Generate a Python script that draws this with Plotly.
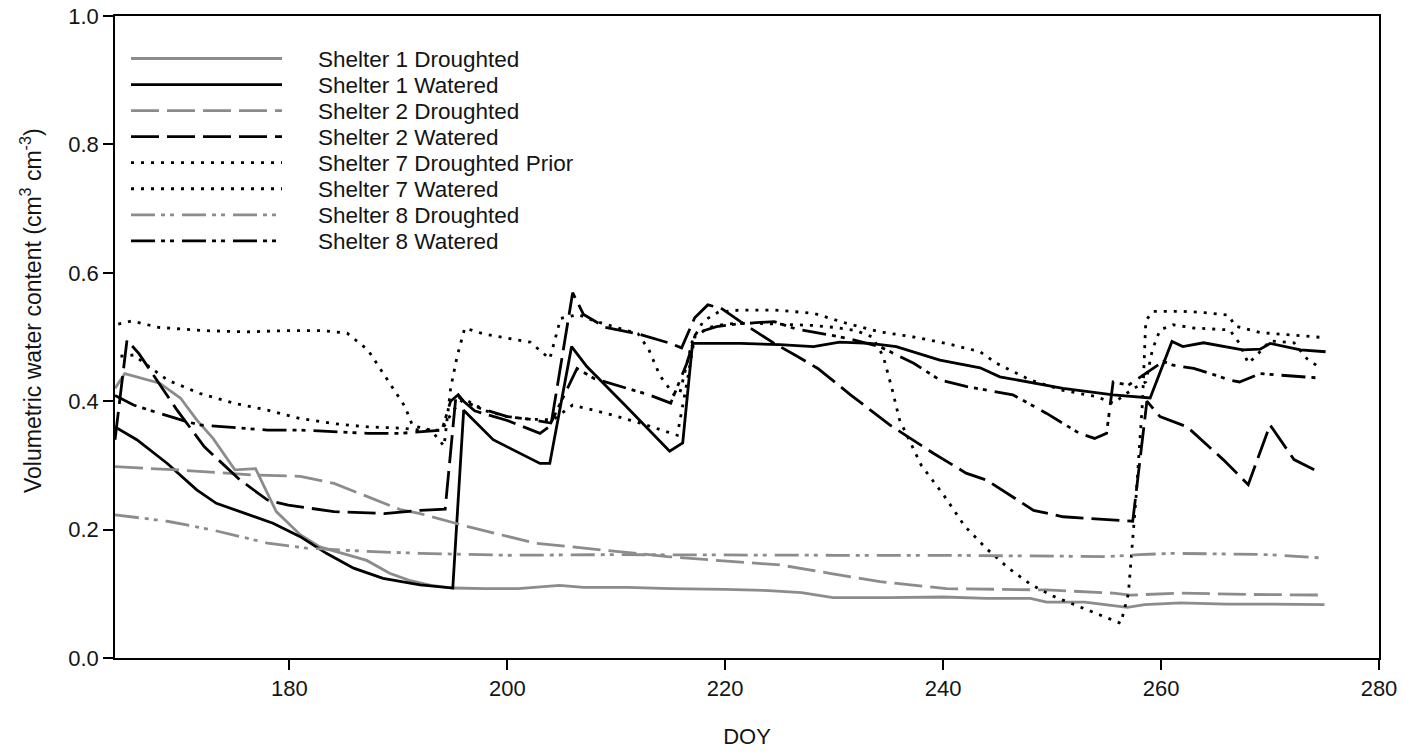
import plotly.graph_objects as go

# ---------------- data ----------------
s1d_x = [164.0, 164.9, 168.1, 170.0, 171.5, 173.0, 175.0, 176.9, 178.8, 181.0, 182.8, 184.9, 187.1, 189.2, 191.0, 193.0,
         195.0, 198.0, 201.0, 204.8, 207.0, 211.0, 215.0, 220.0, 224.0, 227.0, 229.9, 235.0, 240.0, 244.0, 248.0, 249.5,
         253.0, 256.9, 258.5, 261.8, 266.0, 270.0, 275.0]
s1d_y = [0.420, 0.443, 0.428, 0.405, 0.371, 0.342, 0.293, 0.295, 0.228, 0.192, 0.173, 0.163, 0.152, 0.132, 0.121, 0.113,
         0.109, 0.108, 0.108, 0.113, 0.110, 0.110, 0.108, 0.107, 0.105, 0.102, 0.094, 0.094, 0.095, 0.093, 0.093, 0.087,
         0.087, 0.079, 0.083, 0.086, 0.084, 0.084, 0.083]

s1w_x = [164.0, 166.0, 168.8, 171.5, 173.3, 175.5, 178.5, 181.0, 183.4, 185.9, 188.6, 192.0, 195.0, 196.0, 198.7, 203.0,
         203.9, 205.9, 207.3, 210.9, 214.9, 216.1, 217.0, 221.4, 225.0, 228.1, 230.5, 233.3, 235.7, 239.7, 243.4, 245.2,
         251.0, 255.6, 259.0, 261.0, 262.0, 263.9, 267.5, 269.1, 270.0, 272.8, 275.1]
s1w_y = [0.360, 0.340, 0.303, 0.262, 0.241, 0.228, 0.210, 0.189, 0.163, 0.140, 0.124, 0.114, 0.109, 0.386, 0.340, 0.303,
         0.303, 0.485, 0.454, 0.392, 0.322, 0.335, 0.490, 0.490, 0.488, 0.485, 0.492, 0.490, 0.485, 0.464, 0.452, 0.438,
         0.420, 0.410, 0.405, 0.493, 0.485, 0.491, 0.480, 0.481, 0.490, 0.480, 0.477]

s2d_x = [164.0, 169.7, 176.8, 181.0, 184.1, 187.2, 190.2, 192.0, 196.3, 202.5, 208.6, 214.7, 220.8, 225.0, 229.6, 234.2,
         240.3, 249.5, 255.6, 257.2, 261.8, 268.0, 275.0]
s2d_y = [0.298, 0.293, 0.285, 0.283, 0.272, 0.251, 0.231, 0.225, 0.205, 0.179, 0.168, 0.158, 0.150, 0.145, 0.132, 0.119,
         0.108, 0.106, 0.101, 0.098, 0.101, 0.099, 0.098]

s2w_x = [164.0, 165.1, 166.2, 167.6, 169.7, 172.2, 175.5, 178.0, 179.9, 184.1, 188.7, 192.0, 194.3, 195.3, 197.0, 200.0,
         203.0, 204.0, 206.0, 207.0, 209.0, 212.0, 215.0, 216.0, 217.2, 218.4, 219.6, 221.4, 222.6, 224.5, 226.4, 228.5,
         231.5, 235.1, 239.1, 242.1, 244.0, 246.4, 248.3, 251.0, 256.9, 257.4, 258.7, 259.9, 262.4, 265.7, 268.0, 270.0,
         272.2, 274.3]
s2w_y = [0.340, 0.495, 0.474, 0.438, 0.386, 0.329, 0.277, 0.246, 0.238, 0.228, 0.225, 0.230, 0.232, 0.410, 0.385, 0.370,
         0.350, 0.362, 0.569, 0.535, 0.515, 0.505, 0.490, 0.483, 0.530, 0.550, 0.545, 0.524, 0.511, 0.490, 0.472, 0.451,
         0.410, 0.363, 0.319, 0.288, 0.277, 0.251, 0.230, 0.220, 0.213, 0.213, 0.400, 0.376, 0.360, 0.309, 0.270, 0.363,
         0.309, 0.291]

s7dp_x = [164.5, 165.7, 168.8, 171.8, 174.9, 178.0, 181.0, 184.1, 187.2, 190.2, 192.0, 194.0, 195.0, 196.0, 198.0, 200.0,
          202.0, 204.2, 206.0, 209.1, 212.2, 215.6, 216.5, 217.2, 218.5, 220.0, 222.0, 225.0, 228.0, 230.0, 232.0, 233.5,
          234.5, 235.3, 236.0, 238.0, 240.0, 242.0, 244.0, 246.0, 248.0, 250.0, 252.0, 254.0, 256.3, 257.0, 257.7, 258.3,
          258.6, 259.3, 262.0, 264.0, 266.2, 266.8, 269.1, 272.0, 275.0]
s7dp_y = [0.470, 0.472, 0.433, 0.412, 0.397, 0.386, 0.373, 0.365, 0.360, 0.358, 0.355, 0.355, 0.385, 0.404, 0.385, 0.376,
          0.372, 0.371, 0.394, 0.381, 0.366, 0.347, 0.430, 0.500, 0.515, 0.520, 0.522, 0.520, 0.518, 0.515, 0.510, 0.500,
          0.470, 0.420, 0.371, 0.300, 0.255, 0.205, 0.170, 0.140, 0.115, 0.097, 0.083, 0.070, 0.054, 0.100, 0.250, 0.400,
          0.526, 0.540, 0.540, 0.538, 0.534, 0.517, 0.507, 0.503, 0.499]

s7w_x = [164.3, 165.5, 168.0, 172.0, 176.0, 180.0, 183.0, 185.3, 187.2, 189.0, 190.6, 191.3, 193.0, 194.2, 194.8, 195.4,
         196.1, 197.8, 202.1, 203.0, 203.9, 204.9, 206.5, 208.0, 210.0, 212.0, 213.0, 214.0, 215.3, 215.8, 216.5, 217.0,
         218.0, 219.4, 221.4, 224.5, 228.1, 231.2, 234.2, 237.3, 240.3, 243.4, 244.9, 248.0, 251.0, 254.1, 255.6, 257.5,
         258.6, 259.2, 259.9, 261.1, 263.0, 266.3, 267.2, 268.0, 268.7, 270.0, 272.2, 273.4, 274.5]
s7w_y = [0.520, 0.525, 0.515, 0.510, 0.508, 0.510, 0.510, 0.506, 0.480, 0.433, 0.392, 0.362, 0.355, 0.330, 0.420, 0.470,
         0.514, 0.505, 0.492, 0.479, 0.466, 0.529, 0.535, 0.525, 0.515, 0.505, 0.480, 0.440, 0.410, 0.410, 0.460, 0.495,
         0.525, 0.539, 0.542, 0.542, 0.537, 0.521, 0.508, 0.500, 0.490, 0.477, 0.459, 0.433, 0.417, 0.407, 0.397, 0.420,
         0.430, 0.480, 0.511, 0.519, 0.514, 0.511, 0.490, 0.459, 0.470, 0.494, 0.491, 0.466, 0.453]

s8d_x = [164.0, 168.8, 172.8, 178.0, 181.6, 187.2, 192.0, 200.0, 210.0, 220.0, 230.0, 240.0, 250.0, 255.0, 258.0, 261.0,
         266.0, 270.0, 274.6]
s8d_y = [0.223, 0.213, 0.200, 0.179, 0.171, 0.166, 0.163, 0.160, 0.161, 0.160, 0.160, 0.160, 0.158, 0.158, 0.161, 0.163,
         0.162, 0.161, 0.156]

s8w_x = [164.0, 165.7, 168.1, 170.6, 171.8, 174.3, 178.0, 181.0, 184.1, 187.2, 190.2, 192.0, 194.0, 194.8, 195.5, 196.0,
         197.5, 200.0, 202.0, 204.0, 206.4, 208.0, 211.0, 213.0, 215.0, 216.5, 217.3, 219.2, 221.4, 224.5, 226.4, 228.5,
         231.2, 234.2, 237.3, 239.7, 242.1, 246.4, 249.5, 252.5, 253.9, 255.0, 255.6, 257.0, 258.3, 260.2, 261.1, 263.0,
         264.9, 266.3, 267.2, 269.1, 270.6, 272.8, 274.6]
s8w_y = [0.409, 0.394, 0.381, 0.368, 0.363, 0.360, 0.355, 0.355, 0.352, 0.350, 0.350, 0.352, 0.355, 0.400, 0.410, 0.400,
         0.389, 0.376, 0.372, 0.366, 0.451, 0.435, 0.420, 0.410, 0.397, 0.460, 0.506, 0.516, 0.521, 0.524, 0.513, 0.506,
         0.498, 0.485, 0.459, 0.433, 0.423, 0.410, 0.381, 0.350, 0.342, 0.350, 0.430, 0.425, 0.440, 0.462, 0.456, 0.451,
         0.441, 0.433, 0.430, 0.443, 0.441, 0.438, 0.436]

series_names = ["Shelter 1 Droughted", "Shelter 1 Watered", "Shelter 2 Droughted", "Shelter 2 Watered",
                "Shelter 7 Droughted Prior", "Shelter 7 Watered", "Shelter 8 Droughted", "Shelter 8 Watered"]
x_ticks = [180, 200, 220, 240, 260, 280]
y_ticks = [0.0, 0.2, 0.4, 0.6, 0.8, 1.0]

# ---------------- styles ----------------
GRAY = "rgb(140,140,140)"
BLACK = "rgb(0,0,0)"
DASH = "28px,8px"
DOT = "3px,7px"
DASHDOTDOT = "24px,6px,4px,5px,4px,8px"
LW = 2.8

data = [(s1d_x, s1d_y), (s1w_x, s1w_y), (s2d_x, s2d_y), (s2w_x, s2w_y),
        (s7dp_x, s7dp_y), (s7w_x, s7w_y), (s8d_x, s8d_y), (s8w_x, s8w_y)]
styles = [(GRAY, "solid"), (BLACK, "solid"), (GRAY, DASH), (BLACK, DASH),
          (BLACK, DOT), (BLACK, DOT), (GRAY, DASHDOTDOT), (BLACK, DASHDOTDOT)]

FONT = "Arial, 'Liberation Sans', sans-serif"
TXT = "rgb(20,20,20)"

# plot-area geometry (pixels) used to place the in-plot legend
W, H = 1403, 754
ML, MR, MT, MB = 115, 24, 16, 96
PW, PH = W - ML - MR, H - MT - MB


def px2paper_x(px):
    return (px - ML) / PW


def px2paper_y(py):
    return (H - MB - py) / PH


fig = go.Figure()
shapes, annotations = [], []
for i, (name, (xs, ys), (color, dash)) in enumerate(zip(series_names, data, styles)):
    fig.add_trace(go.Scatter(x=xs, y=ys, mode="lines", name=name, showlegend=False,
                             line=dict(color=color, width=LW, dash=dash)))
    # legend key drawn inside the plot, top-left, like the original
    row_y = px2paper_y(58.5 + 26.05 * i)
    shapes.append(dict(type="line", xref="paper", yref="paper",
                       x0=px2paper_x(131), x1=px2paper_x(282), y0=row_y, y1=row_y,
                       line=dict(color=color, width=LW, dash=dash)))
    annotations.append(dict(text=name, xref="paper", yref="paper",
                            x=px2paper_x(316), y=row_y, xanchor="left", yanchor="middle",
                            showarrow=False, yshift=-1,
                            font=dict(family=FONT, size=22.5, color=TXT)))

# y-axis title (sits slightly above the axis centre in the original)
annotations.append(dict(text="Volumetric water content (cm<sup>3</sup> cm<sup>-3</sup>)",
                        xref="paper", yref="paper", x=px2paper_x(31), y=px2paper_y(311),
                        xanchor="center", yanchor="middle", textangle=-90, showarrow=False,
                        font=dict(family=FONT, size=23, color=TXT)))

fig.update_layout(
    width=W, height=H,
    margin=dict(l=ML, r=MR, t=MT, b=MB),
    paper_bgcolor="white", plot_bgcolor="white",
    font=dict(family=FONT, size=22, color="black"),
    showlegend=False,
    shapes=shapes, annotations=annotations,
)
fig.update_xaxes(range=[164, 280], tickmode="array", tickvals=x_ticks, automargin=False,
                 ticks="outside", ticklen=10, tickwidth=1.5, tickcolor="black",
                 showline=True, linecolor="black", linewidth=1.5, mirror=True,
                 showgrid=False, zeroline=False,
                 title=dict(text="DOY", font=dict(size=22, color=TXT), standoff=28),
                 tickfont=dict(size=22, color=TXT))
fig.update_yaxes(range=[0, 1], tickmode="array", tickvals=y_ticks, automargin=False,
                 ticktext=[f"{v:.1f}" for v in y_ticks],
                 ticks="outside", ticklen=10, tickwidth=1.5, tickcolor="black",
                 showline=True, linecolor="black", linewidth=1.5, mirror=True,
                 showgrid=False, zeroline=False,
                 tickfont=dict(size=22, color=TXT))

fig.write_html("out.html")
